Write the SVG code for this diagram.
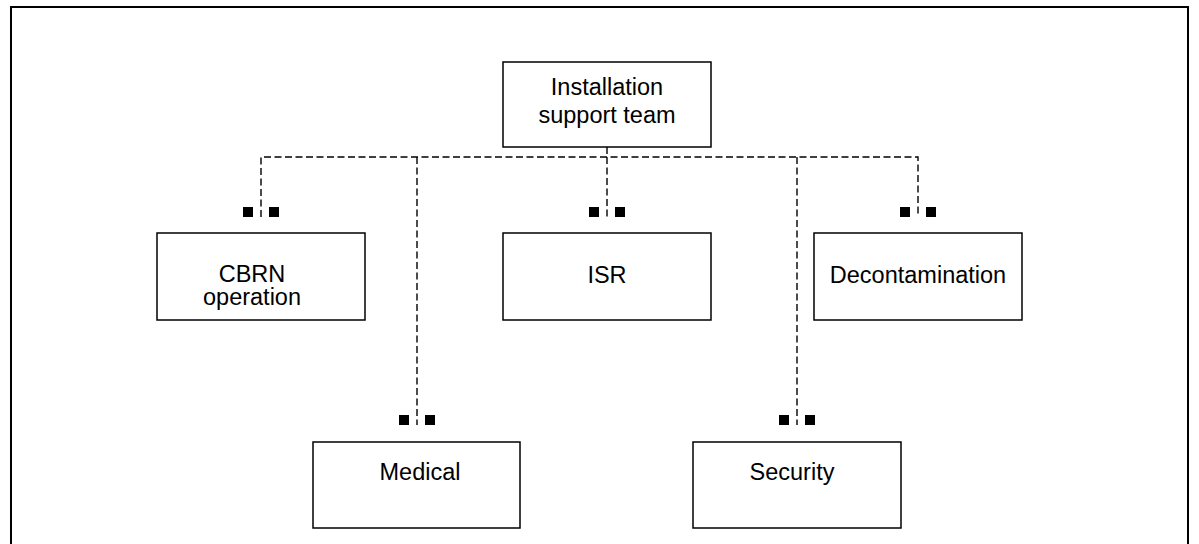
<svg xmlns="http://www.w3.org/2000/svg" width="1199" height="544" viewBox="0 0 1199 544">
<style>
.box{fill:#fff;stroke:#000;stroke-width:1.5}
.lbl{font-family:"Liberation Sans",Arial,sans-serif;font-size:23.5px;fill:#000;text-anchor:middle}
.dash{fill:none;stroke:#000;stroke-width:1.4;stroke-dasharray:7,3.5}
.sq{fill:#000}
</style>
<rect x="0" y="0" width="1199" height="544" fill="#fff"/>
<path d="M11,560 V7 H1188 V560" fill="none" stroke="#000" stroke-width="2"/>
<g id="connectors">
<path class="dash" d="M607,147 V157"/>
<path class="dash" d="M261,217 V157 H918 V217"/>
<path class="dash" d="M417,157 V425"/>
<path class="dash" d="M607,157 V217"/>
<path class="dash" d="M797,157 V425"/>
<rect class="sq" x="243" y="207" width="10" height="10"/><rect class="sq" x="269" y="207" width="10" height="10"/>
<rect class="sq" x="589" y="207" width="10" height="10"/><rect class="sq" x="615" y="207" width="10" height="10"/>
<rect class="sq" x="900" y="207" width="10" height="10"/><rect class="sq" x="926" y="207" width="10" height="10"/>
<rect class="sq" x="399" y="415" width="10" height="10"/><rect class="sq" x="425" y="415" width="10" height="10"/>
<rect class="sq" x="779" y="415" width="10" height="10"/><rect class="sq" x="805" y="415" width="10" height="10"/>
</g>
<g id="n-top"><rect class="box" x="503" y="62" width="208" height="85"/><text class="lbl" x="607" y="95">Installation</text><text class="lbl" x="607" y="123">support team</text></g>
<g id="n-cbrn"><rect class="box" x="157" y="233" width="208" height="87"/><text class="lbl" x="252" y="282">CBRN</text><text class="lbl" x="252" y="305">operation</text></g>
<g id="n-isr"><rect class="box" x="503" y="233" width="208" height="87"/><text class="lbl" x="607" y="283">ISR</text></g>
<g id="n-decon"><rect class="box" x="814" y="233" width="208" height="87"/><text class="lbl" x="918" y="283">Decontamination</text></g>
<g id="n-medical"><rect class="box" x="313" y="442" width="207" height="86"/><text class="lbl" x="420" y="480">Medical</text></g>
<g id="n-security"><rect class="box" x="693" y="442" width="208" height="86"/><text class="lbl" x="792" y="480">Security</text></g>
</svg>
